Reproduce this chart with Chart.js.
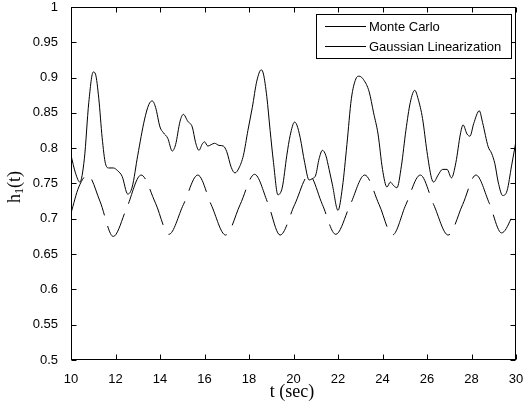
<!DOCTYPE html>
<html>
<head>
<meta charset="utf-8">
<script src="https://cdn.jsdelivr.net/npm/chart.js@4/dist/chart.umd.min.js"></script>
<style>
  html, body { margin: 0; padding: 0; background: #fff; }
  #wrap { width: 523px; height: 405px; }
</style>
</head>
<body>
<div id="wrap"><canvas id="chartH1" width="523" height="405"></canvas></div>
<script>
// Monte Carlo (solid)
const mcTime = [10.0, 10.2, 10.4, 10.6, 10.8, 11.0, 11.1, 11.25, 11.4, 11.55, 11.7, 11.9, 12.1, 12.3, 12.55, 12.75,
    13.0, 13.3, 13.5, 13.65, 13.8, 14.0, 14.15, 14.35, 14.55, 14.7, 14.9, 15.05, 15.25, 15.45, 15.6, 15.75,
    15.9, 16.0, 16.15, 16.3, 16.45, 16.65, 16.85, 17.0, 17.2, 17.37, 17.55, 17.75, 17.95, 18.15, 18.35, 18.55,
    18.65, 18.8, 18.95, 19.1, 19.3, 19.5, 19.7, 19.85, 20.05, 20.15, 20.3, 20.5, 20.7, 20.85, 21.0, 21.15,
    21.3, 21.45, 21.6, 21.75, 22.0, 22.2, 22.4, 22.6, 22.8, 22.95, 23.15, 23.4, 23.6, 23.8, 24.0, 24.2,
    24.35, 24.5, 24.65, 24.85, 25.05, 25.25, 25.45, 25.6, 25.8, 26.0, 26.2, 26.3, 26.5, 26.7, 26.9, 27.1,
    27.3, 27.5, 27.62, 27.8, 27.93, 28.1, 28.35, 28.5, 28.75, 28.9, 29.05, 29.2, 29.4, 29.6, 29.8, 30.0];
const mcValues = [0.790, 0.765, 0.752, 0.785, 0.865, 0.908, 0.905, 0.870, 0.815, 0.778, 0.772, 0.772, 0.768, 0.760, 0.735, 0.745,
    0.790, 0.840, 0.862, 0.867, 0.858, 0.830, 0.822, 0.814, 0.796, 0.805, 0.838, 0.848, 0.838, 0.830, 0.808, 0.797,
    0.806, 0.809, 0.803, 0.805, 0.807, 0.804, 0.803, 0.795, 0.773, 0.765, 0.772, 0.790, 0.825, 0.858, 0.895, 0.911,
    0.905, 0.873, 0.825, 0.780, 0.734, 0.745, 0.790, 0.818, 0.837, 0.833, 0.815, 0.780, 0.755, 0.757, 0.762, 0.785,
    0.797, 0.790, 0.770, 0.748, 0.712, 0.745, 0.805, 0.870, 0.898, 0.902, 0.897, 0.880, 0.850, 0.820, 0.770, 0.745,
    0.752, 0.747, 0.744, 0.775, 0.825, 0.865, 0.882, 0.870, 0.842, 0.795, 0.758, 0.752, 0.762, 0.770, 0.770, 0.758,
    0.780, 0.820, 0.833, 0.820, 0.817, 0.835, 0.853, 0.836, 0.802, 0.793, 0.778, 0.752, 0.733, 0.740, 0.775, 0.810];

// Gaussian Linearization (dashed)
const glTime = [10.0, 10.35, 10.75, 11.3, 11.9, 12.5, 13.15, 13.8, 14.4, 15.05, 15.7, 16.3, 16.95, 17.6, 18.25, 18.85,
    19.4, 20.05, 20.7, 21.3, 21.9, 22.55, 23.2, 23.85, 24.45, 25.05, 25.7, 26.3, 26.95, 27.6, 28.2, 28.8, 29.35, 30.0];
const glValues = [0.708, 0.745, 0.762, 0.725, 0.675, 0.715, 0.762, 0.722, 0.678, 0.720, 0.762, 0.720, 0.677, 0.720, 0.763, 0.722,
    0.677, 0.720, 0.762, 0.720, 0.678, 0.720, 0.762, 0.720, 0.677, 0.720, 0.762, 0.720, 0.677, 0.720, 0.762, 0.722, 0.680, 0.715];

const legendLabels = ['Monte Carlo', 'Gaussian Linearization'];
const xTicks = { min: 10, max: 30, step: 2 };
const yTicks = { min: 0.5, max: 1, step: 0.05 };

const toPoints = (ts, vs) => ts.map((t, i) => ({ x: t, y: vs[i] }));

// caixa estilo matlab, ticks para dentro, legenda e titulos
const matlabFrame = {
    id: 'matlabFrame',
    afterDraw(chart) {
        const { ctx, chartArea: a, scales: { x, y } } = chart;
        const L = Math.round(a.left) + 0.5, R = Math.round(a.right) - 0.5;
        const T = Math.round(a.top) + 0.5, B = Math.round(a.bottom) - 0.5;
        ctx.save();
        ctx.strokeStyle = '#000';
        ctx.lineWidth = 1;
        ctx.strokeRect(L, T, R - L, B - T);

        ctx.beginPath();
        for (let v = xTicks.min; v <= xTicks.max + 1e-9; v += xTicks.step) {
            const px = Math.round(x.getPixelForValue(v)) + 0.5;
            ctx.moveTo(px, B); ctx.lineTo(px, B - 5);
            ctx.moveTo(px, T); ctx.lineTo(px, T + 5);
        }
        for (let v = yTicks.min; v <= yTicks.max + 1e-9; v += yTicks.step) {
            const py = Math.round(y.getPixelForValue(v)) + 0.5;
            ctx.moveTo(L, py); ctx.lineTo(L + 5, py);
            ctx.moveTo(R, py); ctx.lineTo(R - 5, py);
        }
        ctx.stroke();

        // legenda
        const bx = 316.5, by = 14.5, bw = 195, bh = 44;
        ctx.fillStyle = '#fff';
        ctx.fillRect(bx, by, bw, bh);
        ctx.strokeRect(bx, by, bw, bh);
        ctx.font = '13px "Liberation Sans", Arial, sans-serif';
        ctx.fillStyle = '#000';
        ctx.textBaseline = 'middle';
        ctx.textAlign = 'left';
        legendLabels.forEach((lab, i) => {
            const ly = 26.5 + i * 20;
            ctx.beginPath();
            ctx.moveTo(325, ly); ctx.lineTo(366, ly);
            ctx.stroke();
            ctx.fillText(lab, 369, ly + 0.5);
        });

        // titulos dos eixos
        ctx.font = '18px "Liberation Serif", "Times New Roman", serif';
        ctx.textAlign = 'center';
        ctx.fillText('t (sec)', 292, 392);

        ctx.translate(15, 187);
        ctx.rotate(-Math.PI / 2);
        ctx.textAlign = 'left';
        const big = '18px "Liberation Serif", "Times New Roman", serif';
        const small = '12px "Liberation Serif", "Times New Roman", serif';
        ctx.font = big;
        const wH = ctx.measureText('h').width;
        ctx.font = small;
        const w1 = ctx.measureText('1').width;
        ctx.font = big;
        const wT = ctx.measureText('(t)').width;
        let cx = -(wH + w1 + wT) / 2;
        ctx.fillText('h', cx, 0);
        cx += wH;
        ctx.font = small;
        ctx.fillText('1', cx, 5);
        cx += w1;
        ctx.font = big;
        ctx.fillText('(t)', cx, 0);
        ctx.restore();
    }
};

const tickFont = { family: '"Liberation Sans", Arial, sans-serif', size: 13 };

new Chart(document.getElementById('chartH1'), {
    type: 'line',
    data: {
        datasets: [
            {
                label: legendLabels[1],
                data: toPoints(glTime, glValues),
                borderColor: '#000',
                borderWidth: 1,
                borderDash: [38, 11],
                pointRadius: 0,
                cubicInterpolationMode: 'monotone',
                fill: false,
            },
            {
                label: legendLabels[0],
                data: toPoints(mcTime, mcValues),
                borderColor: '#000',
                borderWidth: 1,
                pointRadius: 0,
                cubicInterpolationMode: 'monotone',
                fill: false,
            },
        ],
    },
    options: {
        responsive: false,
        animation: false,
        layout: { padding: { top: 7, right: 7, left: 0, bottom: 0 } },
        plugins: { legend: { display: false }, tooltip: { enabled: false } },
        scales: {
            x: {
                type: 'linear',
                min: xTicks.min,
                max: xTicks.max,
                grid: { display: false },
                border: { display: false },
                ticks: { stepSize: xTicks.step, color: '#000', font: tickFont, padding: 4, maxRotation: 0 },
                afterFit: (s) => { s.height = 45; s.paddingLeft = 0; s.paddingRight = 0; },
            },
            y: {
                min: yTicks.min,
                max: yTicks.max,
                grid: { display: false },
                border: { display: false },
                ticks: {
                    stepSize: yTicks.step,
                    color: '#000',
                    font: tickFont,
                    padding: 5,
                    callback: (v) => String(Number(v.toFixed(2))),
                },
                afterFit: (s) => { s.width = 71; s.paddingTop = 0; s.paddingBottom = 0; },
            },
        },
    },
    plugins: [matlabFrame],
});
</script>
</body>
</html>
